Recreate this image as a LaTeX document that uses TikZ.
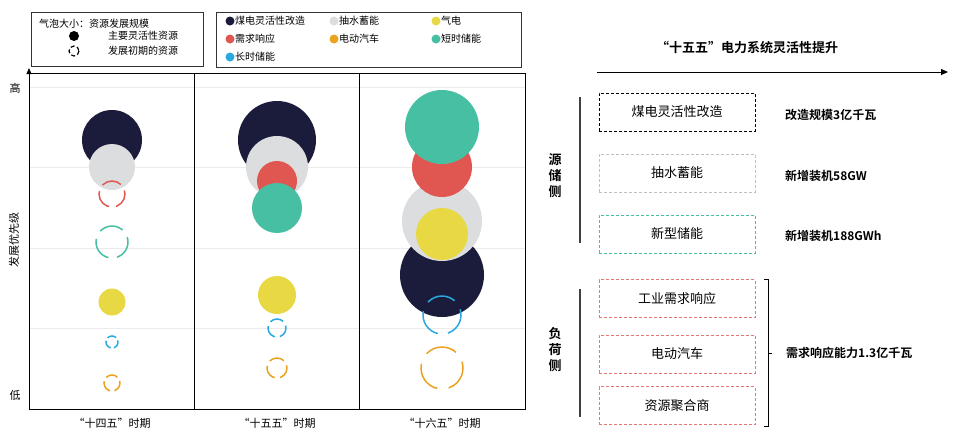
\documentclass[tikz,border=0pt]{standalone}
\usepackage{fontspec}
\setmainfont{Liberation Sans}
\newfontfamily\cjk{Noto Sans CJK SC}[BoldFont={Noto Sans CJK SC Bold}]
\usetikzlibrary{arrows.meta}
\definecolor{cnavy}{HTML}{1B1C3B}
\definecolor{cgray}{HTML}{DCDDDF}
\definecolor{cred}{HTML}{E05650}
\definecolor{cgreen}{HTML}{47BFA3}
\definecolor{cyel}{HTML}{E8D843}
\definecolor{cblue}{HTML}{2AA9E0}
\definecolor{corg}{HTML}{EBA21F}
\newcommand{\fb}[4]{\fill[#4] (#1,#2) circle[radius=#3];}
\newcommand{\db}[4]{\draw[#4,line width=1.5pt,dash pattern=on {1.55*#3} off {0.54*#3},dash phase={0.3*#3}] (#1,#2) circle[radius=#3];}
\begin{document}
\begin{tikzpicture}[x=1pt,y=-1pt,font=\cjk,
  txt/.style={inner sep=0pt},
  box/.style={draw,dash pattern=on 3pt off 2pt,line width=0.9pt,minimum width=156pt,minimum height=38pt,font=\cjk\fontsize{13}{13}\selectfont}]
\useasboundingbox (0,0) rectangle (960,437);
% grid
\foreach \y in {87,167,248,328} \draw[black!8,line width=0.8pt] (29,\y) -- (525,\y);
% legends
\draw[line width=0.8pt,black!80] (31,12) rectangle (203,66);
\node[txt,anchor=west,font=\cjk\fontsize{10}{10}\selectfont] (l0) at (39,24) {气泡大小：资源发展规模};
\fill[black] (74,36) circle[radius=5];
\draw[black,line width=1.2pt,dash pattern=on 4pt off 2.5pt] (74,51) circle[radius=5];
\node[txt,anchor=west,font=\cjk\fontsize{10}{10}\selectfont] (l1) at (108,36) {主要灵活性资源};
\node[txt,anchor=west,font=\cjk\fontsize{10}{10}\selectfont] (l2) at (108,51) {发展初期的资源};
\draw[line width=0.8pt,black!80] (216,12) rectangle (521,67);
\foreach \x/\y/\c/\t in {230/21/cnavy/煤电灵活性改造,334/21/cgray/抽水蓄能,436/21/cyel/气电,
  230/39/cred/需求响应,334/39/corg/电动汽车,436/39/cgreen/短时储能,230/57/cblue/长时储能}{
  \fill[\c] (\x,\y) circle[radius=4.5];
  \node[txt,anchor=west,font=\cjk\fontsize{10}{10}\selectfont] at (\x+5,\y) {\t};
}
% bubbles col1
\fb{112}{140}{30}{cnavy}
\fb{112}{167}{23}{cgray}
\db{112}{194}{13}{cred}
\db{112}{242}{16}{cgreen}
\fb{112}{302}{13.5}{cyel}
\db{112}{342}{6}{cblue}
\db{112}{383}{8}{corg}
% col2
\fb{277}{140}{39}{cnavy}
\fb{277}{167}{31}{cgray}
\fb{277}{181}{20}{cred}
\fb{277}{208}{25}{cgreen}
\fb{277}{295}{19}{cyel}
\db{277}{328}{9}{cblue}
\db{277}{368}{10}{corg}
% col3
\fb{442}{275}{42}{cnavy}
\fb{442}{221}{40}{cgray}
\fb{442}{234}{26}{cyel}
\fb{442}{167}{30}{cred}
\fb{442}{127}{37}{cgreen}
\db{442}{315}{19}{cblue}
\db{442}{368}{21}{corg}
% frame
\draw[line width=0.8pt] (29,73) rectangle (525,409);
\draw[line width=0.8pt] (194,73) -- (194,409) (359,73) -- (359,409);
\draw[line width=0.8pt,-{Triangle[length=6pt,width=5pt]}] (29,409) -- (29,68);
\node[txt,font=\cjk\fontsize{11}{11}\selectfont] (hi) at (15,88) {高};
\node[txt,font=\cjk\fontsize{11}{11}\selectfont] (lo) at (15,395) {低};
\node[txt,rotate=90,font=\cjk\fontsize{11}{11}\selectfont] (ax) at (14,240) {发展优先级};
\foreach \x/\t in {112/“十四五”时期,277/“十五五”时期,442/“十六五”时期}
  \node[txt,font=\cjk\fontsize{11}{11}\selectfont] at (\x,423) {\t};
% right
\node[txt,font=\cjk\bfseries\fontsize{13}{13}\selectfont] (title) at (747,48) {“十五五”电力系统灵活性提升};
\coordinate (a0) at (597,72); \coordinate (a1) at (948,72);
\draw[line width=1pt,-{Triangle[length=7pt,width=6pt]}] (a0) -- (a1);
\node[box,draw=black] (b1) at (677,112) {煤电灵活性改造};
\node[box,draw=black!25] (b2) at (677,173) {抽水蓄能};
\node[box,draw=cgreen] (b3) at (677,234) {新型储能};
\node[box,draw=cred!80] (b4) at (677,298.5) {工业需求响应};
\node[box,draw=cred!80] (b5) at (677,354) {电动汽车};
\node[box,draw=cred!80] (b6) at (677,405.5) {资源聚合商};
\foreach \y/\t in {115/改造规模3亿千瓦,176/新增装机58GW,236/新增装机188GWh}
  \node[txt,anchor=west,font=\cjk\bfseries\fontsize{12}{12}\selectfont] at (785,\y) {\t};
\draw[line width=1.2pt,black!75] (580,97) -- (580,243) (580,289) -- (580,417);
\node[txt,align=center,font=\cjk\bfseries\fontsize{13}{16}\selectfont] (s) at (555,176) {源\\储\\侧};
\node[txt,align=center,font=\cjk\bfseries\fontsize{13}{16}\selectfont] (f) at (555,350) {负\\荷\\侧};
\draw[line width=1pt] (764,279) -- (768,279) -- (768,426) -- (764,426) (768,353) -- (772,353);
\node[txt,anchor=west,font=\cjk\bfseries\fontsize{12}{12}\selectfont] (dr) at (786,353) {需求响应能力1.3亿千瓦};
\end{tikzpicture}
\end{document}
